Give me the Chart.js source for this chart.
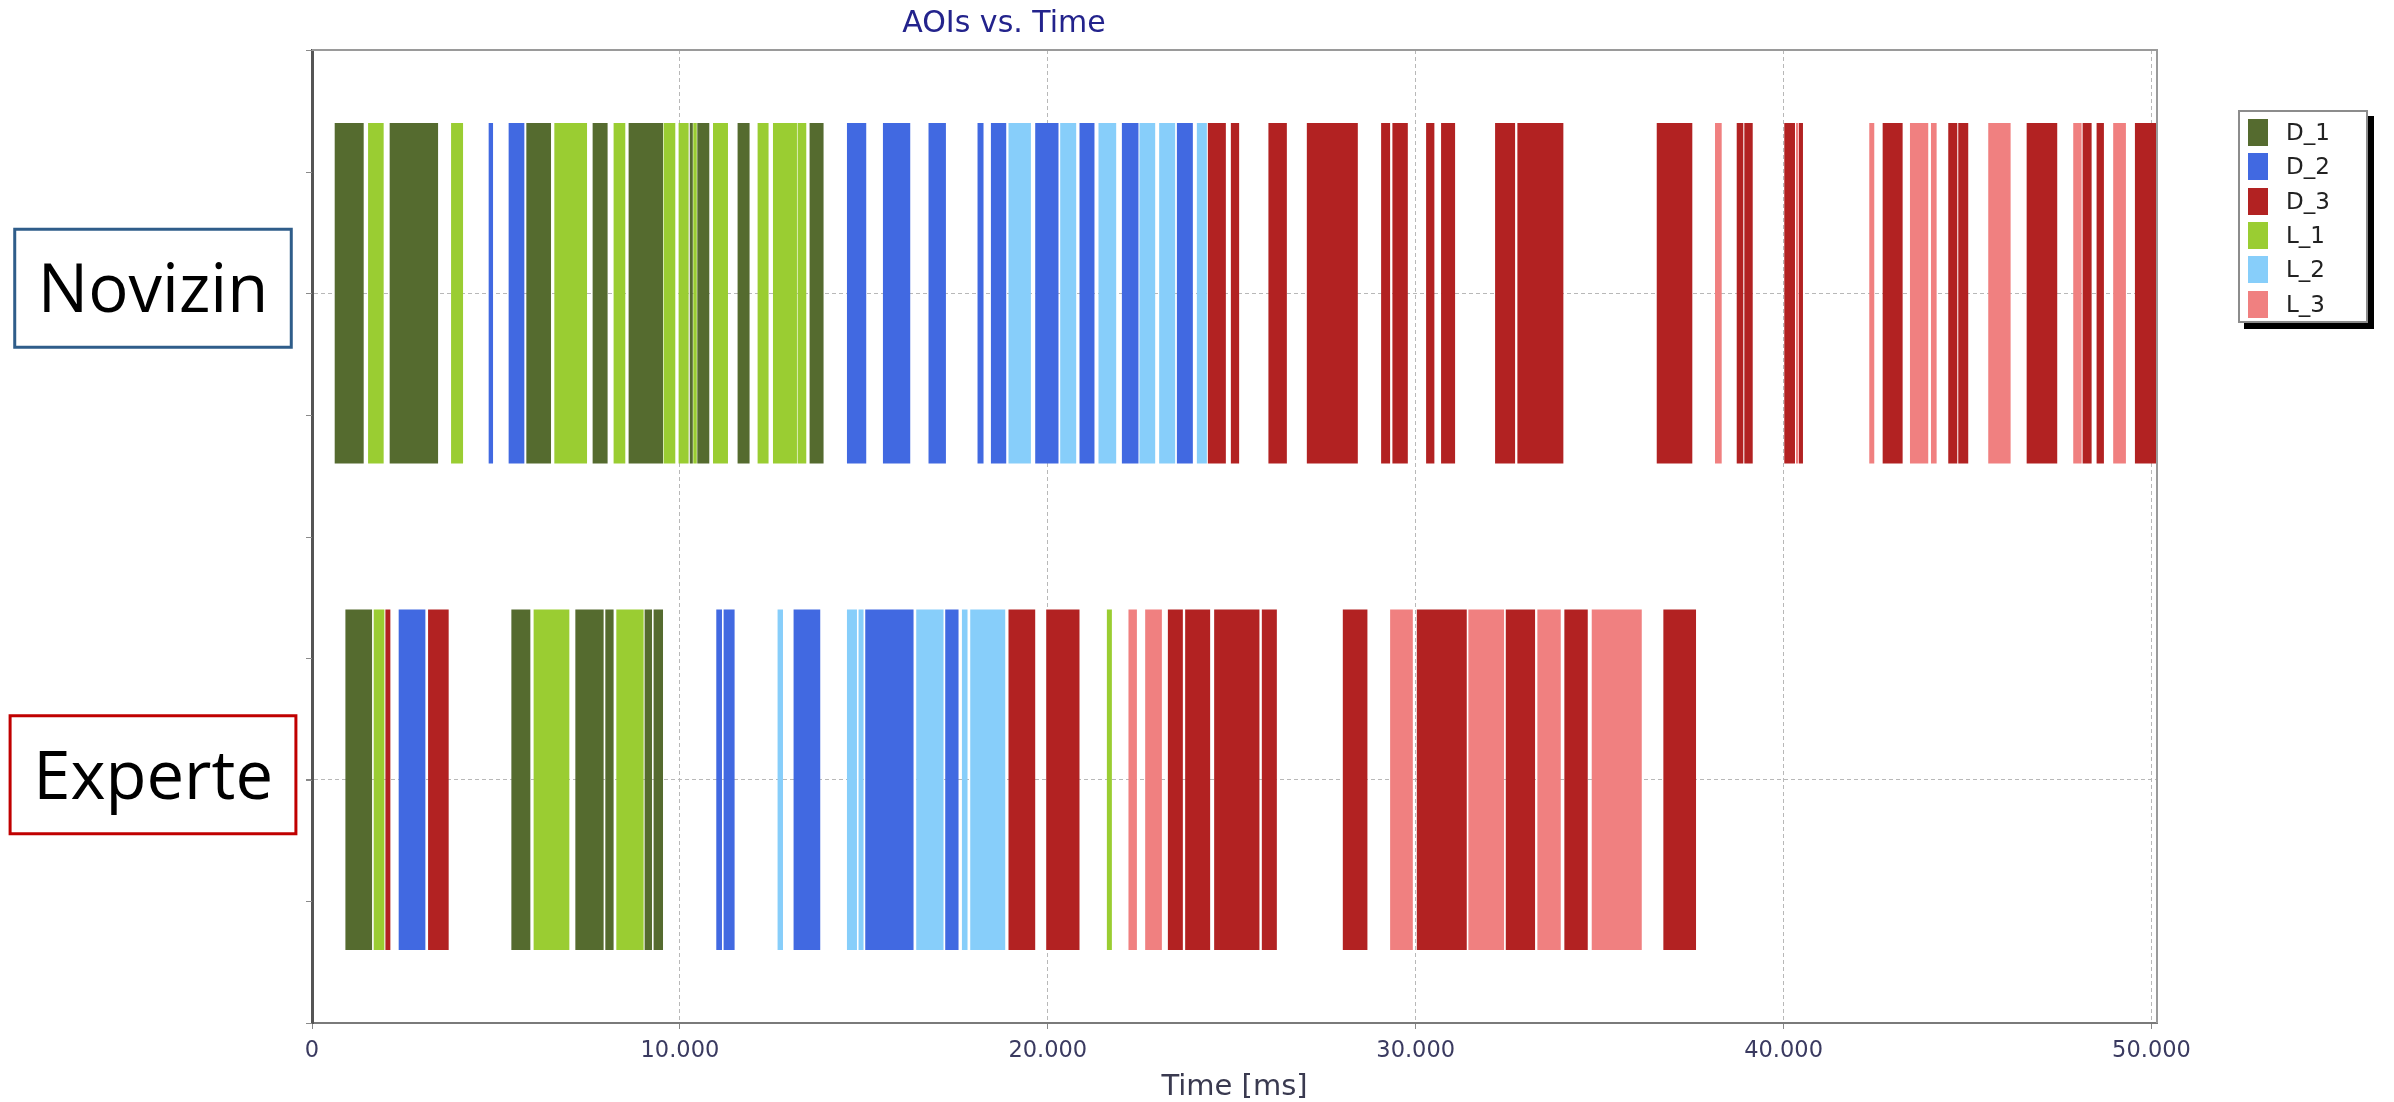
<!DOCTYPE html>
<html>
<head>
<meta charset="utf-8">
<script src="https://cdn.jsdelivr.net/npm/chart.js@4.4.0/dist/chart.umd.min.js"></script>
<style>
  html, body { margin: 0; padding: 0; background: #ffffff; }
  #wrap { position: relative; width: 2394px; height: 1102px; overflow: hidden; }
  #chart { position: absolute; left: 0; top: 0; }
  #title { position: absolute; left: 754px; width: 500px; top: 6px; text-align: center;
           font: 30px "DejaVu Sans", sans-serif; line-height: 32px; color: #23238c; }
  #legend { position: absolute; left: 2238px; top: 110px; width: 126px; height: 209px;
            border: 2px solid #8c8c8c; background: #fff; box-shadow: 6px 6px 0 #000; }
  .item { position: absolute; left: 8px; height: 27px; width: 110px; }
  .sw { position: absolute; left: 0; top: 0; width: 20px; height: 27px; }
  .lbl { position: absolute; left: 38px; top: 0; font: 23px "DejaVu Sans", sans-serif;
         line-height: 27px; color: #222; }
</style>
</head>
<body>
<div id="wrap">
  <canvas id="chart" width="2394" height="1102"></canvas>
  <div id="title">AOIs vs. Time</div>
  <div id="legend"></div>
</div>
<script>
// ---- data ----
const categories = ['Novizin', 'Experte'];
const aoiNames = ['D_1', 'D_2', 'D_3', 'L_1', 'L_2', 'L_3'];
const xTickValues = [0, 10000, 20000, 30000, 40000, 50000];

// [start ms, end ms, AOI]
const novizinSegments = [
  [617, 1405, 'D_1'], [1524, 1948, 'L_1'], [2111, 3427, 'D_1'], [3780, 4106, 'L_1'],
  [4802, 4921, 'D_2'], [5345, 5772, 'D_2'], [5826, 6497, 'D_1'], [6587, 7476, 'L_1'],
  [7628, 8035, 'D_1'], [8198, 8516, 'L_1'], [8606, 9541, 'D_1'], [9557, 9875, 'L_1'],
  [9965, 10237, 'L_1'], [10269, 10351, 'D_1'], [10364, 10459, 'L_1'], [10473, 10799, 'D_1'],
  [10900, 11307, 'L_1'], [11568, 11894, 'D_1'], [12112, 12410, 'L_1'], [12530, 13182, 'L_1'],
  [13199, 13435, 'L_1'], [13525, 13905, 'D_1'], [14541, 15065, 'D_2'], [15519, 16261, 'D_2'],
  [16758, 17231, 'D_2'], [18090, 18253, 'D_2'], [18454, 18870, 'D_2'], [18932, 19541, 'L_2'],
  [19658, 20291, 'D_2'], [20337, 20772, 'L_2'], [20862, 21269, 'D_2'], [21378, 21859, 'L_2'],
  [22014, 22465, 'D_2'], [22492, 22919, 'L_2'], [23027, 23462, 'L_2'], [23509, 23943, 'D_2'],
  [24052, 24324, 'L_2'], [24351, 24840, 'D_3'], [24976, 25201, 'D_3'], [25997, 26498, 'D_3'],
  [27041, 28427, 'D_3'], [29060, 29305, 'D_3'], [29367, 29786, 'D_3'], [30283, 30508, 'D_3'],
  [30690, 31071, 'D_3'], [32158, 32702, 'D_3'], [32764, 34014, 'D_3'], [36552, 37519, 'D_3'],
  [38136, 38318, 'L_3'], [38726, 38905, 'D_3'], [38933, 39161, 'D_3'], [40019, 40310, 'D_3'],
  [40337, 40405, 'L_3'], [40419, 40527, 'D_3'], [42329, 42465, 'L_3'], [42693, 43236, 'D_3'],
  [43435, 43932, 'L_3'], [44006, 44160, 'L_3'], [44476, 44721, 'D_3'], [44748, 45019, 'D_3'],
  [45563, 46171, 'L_3'], [46607, 47438, 'D_3'], [47873, 48101, 'L_3'], [48128, 48373, 'D_3'],
  [48508, 48707, 'D_3'], [48959, 49305, 'L_3'], [49550, 50229, 'D_3']
];

const experteSegments = [
  [908, 1633, 'D_1'], [1677, 1967, 'L_1'], [1995, 2130, 'D_3'], [2356, 3082, 'D_2'],
  [3155, 3715, 'D_3'], [5419, 5935, 'D_1'], [6024, 6995, 'L_1'], [7158, 7927, 'D_1'],
  [7973, 8198, 'D_1'], [8272, 9014, 'L_1'], [9041, 9242, 'D_1'], [9285, 9541, 'D_1'],
  [10989, 11144, 'D_2'], [11188, 11487, 'D_2'], [12655, 12802, 'L_2'], [13090, 13815, 'D_2'],
  [14541, 14813, 'L_2'], [14856, 14992, 'L_2'], [15038, 16351, 'D_2'], [16424, 17166, 'L_2'],
  [17212, 17574, 'D_2'], [17666, 17818, 'L_2'], [17892, 18843, 'L_2'], [18932, 19658, 'D_3'],
  [19957, 20862, 'D_3'], [21606, 21742, 'L_1'], [22193, 22422, 'L_3'], [22647, 23101, 'L_3'],
  [23264, 23671, 'D_3'], [23734, 24413, 'D_3'], [24522, 25753, 'D_3'], [25818, 26226, 'D_3'],
  [28019, 28688, 'D_3'], [29305, 29922, 'L_3'], [30030, 31388, 'D_3'], [31432, 32402, 'L_3'],
  [32449, 33245, 'D_3'], [33307, 33943, 'L_3'], [34041, 34677, 'D_3'], [34785, 36145, 'L_3'],
  [36732, 37620, 'D_3']
];

// ---- styles ----
const aoiColors = ['#556B2F', '#4169E1', '#B22222', '#9ACD32', '#87CEFA', '#F08080'];
const labelBoxColors = ['#2F5D8A', '#C00000'];
const xMax = 50150;

// ---- build datasets ----
const segmentsByCategory = [novizinSegments, experteSegments];
const datasets = aoiNames.map((aoi, k) => {
  const data = [];
  segmentsByCategory.forEach((segs, ci) => {
    segs.forEach(s => { if (s[2] === aoi) data.push({ x: [s[0], s[1]], y: categories[ci] }); });
  });
  return {
    label: aoi,
    data: data,
    backgroundColor: aoiColors[k],
    borderWidth: 0,
    grouped: false,
    barPercentage: 0.7,
    categoryPercentage: 1.0
  };
});

// ---- legend (HTML, from the same arrays) ----
const legendEl = document.getElementById('legend');
aoiNames.forEach((aoi, k) => {
  const it = document.createElement('div');
  it.className = 'item';
  it.style.top = (7 + k * 34.3) + 'px';
  it.innerHTML = '<div class="sw" style="background:' + aoiColors[k] + '"></div><div class="lbl">' + aoi + '</div>';
  legendEl.appendChild(it);
});

function fmtThousands(v) {
  return String(v).replace(/\B(?=(\d{3})+(?!\d))/g, '.');
}

// plugin: frame, minor ticks, label boxes
const decor = {
  id: 'decor',
  afterDraw(chart) {
    const ctx = chart.ctx;
    const a = chart.chartArea;
    const ys = chart.scales.y;
    ctx.save();
    // frame top & right
    ctx.strokeStyle = '#9a9a9a';
    ctx.lineWidth = 2;
    ctx.beginPath();
    ctx.moveTo(a.left, a.top); ctx.lineTo(a.right, a.top); ctx.lineTo(a.right, a.bottom);
    ctx.stroke();
    // minor ticks on y axis (quarter category steps)
    const step = (ys.getPixelForValue(1) - ys.getPixelForValue(0)) / 4;
    const y0 = ys.getPixelForValue(0);
    ctx.strokeStyle = '#8a8a8a';
    ctx.lineWidth = 1;
    for (let k = -2; k <= 6; k++) {
      const y = Math.round(y0 + k * step) + 0.5;
      if (y < a.top - 1 || y > a.bottom + 1) continue;
      ctx.beginPath(); ctx.moveTo(a.left - 6, y); ctx.lineTo(a.left, y); ctx.stroke();
    }
    // boxes around the row labels
    ctx.font = ys.options.ticks.font.size + 'px ' + ys.options.ticks.font.family;
    categories.forEach((c, i) => {
      const yc = ys.getPixelForValue(i) - 5;
      const w = ctx.measureText(c).width + 46;
      const cx = 153;
      ctx.strokeStyle = labelBoxColors[i];
      ctx.lineWidth = 3;
      ctx.strokeRect(cx - w / 2, yc - 59, w, 118);
    });
    ctx.restore();
  }
};

new Chart(document.getElementById('chart'), {
  type: 'bar',
  data: { labels: categories, datasets: datasets },
  plugins: [decor],
  options: {
    indexAxis: 'y',
    responsive: false,
    animation: false,
    devicePixelRatio: 1,
    events: [],
    layout: { padding: { left: 0, right: 237, top: 50, bottom: 0 } },
    plugins: { legend: { display: false }, title: { display: false }, tooltip: { enabled: false } },
    scales: {
      x: {
        type: 'linear',
        min: 0,
        max: xMax,
        afterBuildTicks: s => { s.ticks = xTickValues.map(v => ({ value: v })); },
        afterFit: s => { s.height = 79; s.paddingLeft = 0; s.paddingRight = 0; },
        ticks: {
          callback: v => fmtThousands(v),
          font: { family: 'DejaVu Sans', size: 22.5 },
          color: '#3a3a60',
          padding: 9,
          maxRotation: 0
        },
        grid: { color: '#b8b8b8', lineWidth: 1, drawTicks: true, tickLength: 6, tickColor: '#888' },
        border: { display: true, color: '#7a7a7a', width: 2, dash: [4, 3] },
        title: {
          display: true,
          text: 'Time [ms]',
          font: { family: 'DejaVu Sans', size: 29, lineHeight: 1 },
          color: '#3a3a50',
          padding: { top: 0, bottom: 0 }
        }
      },
      y: {
        type: 'category',
        afterFit: s => { s.width = 312; s.paddingTop = 0; s.paddingBottom = 0; },
        grid: { offset: false, color: '#b8b8b8', lineWidth: 1, drawTicks: true, tickLength: 6, tickColor: '#888' },
        border: { display: true, color: '#555', width: 3, dash: [4, 3] },
        ticks: {
          font: { family: 'Open Sans', size: 67 },
          color: '#000',
          crossAlign: 'center',
          padding: 33
        }
      }
    }
  }
});
</script>
</body>
</html>
